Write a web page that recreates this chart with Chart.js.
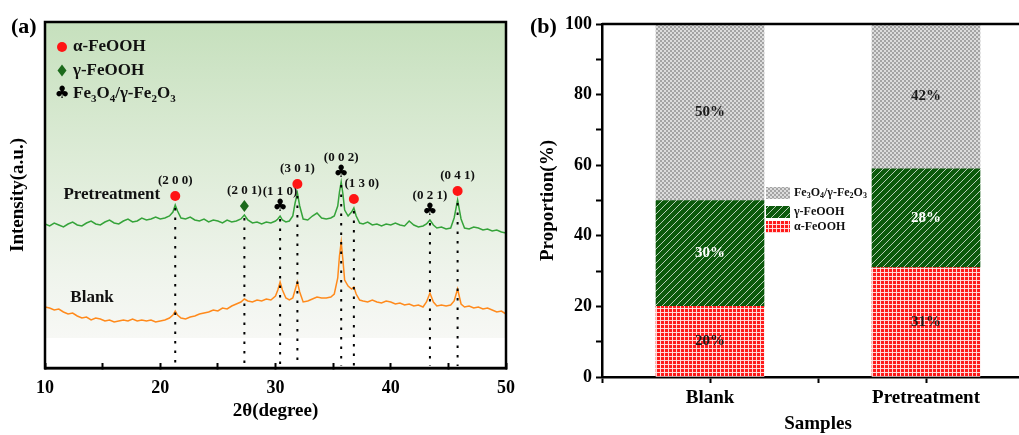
<!DOCTYPE html>
<html>
<head>
<meta charset="utf-8">
<script src="https://cdn.jsdelivr.net/npm/chart.js"></script>
<style>
  html, body { margin: 0; padding: 0; background: #fff; overflow: hidden; width: 1019px; height: 435px; }
  #xrdBox { position: absolute; left: 0; top: 0; width: 530px; height: 435px; }
  #barBox { position: absolute; left: 520px; top: 0; width: 520px; height: 435px; }
</style>
</head>
<body>
<div id="xrdBox"><canvas id="xrdChart"></canvas></div>
<div id="barBox"><canvas id="barChart"></canvas></div>

<script>
    // ==============================
    // Data (a): XRD patterns, [2θ, intensity a.u.]
    // ==============================
    var pretreatmentXRD = [
        [10.0,144],[10.4,142],[10.8,145],[11.2,143],[11.6,141],[12.0,144],[12.4,146],[12.8,143],[13.2,142],[13.6,145],
        [14.0,147],[14.4,144],[14.8,143],[15.2,146],[15.6,148],[16.0,145],[16.4,144],[16.8,147],[17.2,149],[17.6,146],
        [18.0,147],[18.4,150],[18.8,148],[19.2,149],[19.6,151],[20.0,149],[20.4,150],[20.8,152],[21.1,156],[21.3,163],
        [21.5,157],[21.8,150],[22.2,149],[22.6,151],[23.0,148],[23.4,147],[23.8,149],[24.2,146],[24.6,148],[25.0,147],
        [25.4,145],[25.8,148],[26.2,146],[26.6,147],[27.0,149],[27.3,153],[27.6,148],[28.0,145],[28.4,146],[28.8,144],
        [29.2,146],[29.6,145],[30.0,147],[30.2,149],[30.4,152],[30.6,148],[30.9,146],[31.2,147],[31.5,152],[31.7,165],
        [31.9,175],[32.1,162],[32.4,149],[32.8,148],[33.2,152],[33.6,155],[34.0,150],[34.4,149],[34.8,150],[35.1,152],
        [35.4,162],[35.55,176],[35.7,186],[35.85,174],[36.0,158],[36.3,152],[36.6,156],[36.8,160],[37.0,152],[37.3,145],
        [37.6,144],[38.0,146],[38.4,143],[38.8,144],[39.2,142],[39.6,144],[40.0,143],[40.4,145],[40.8,143],[41.2,142],
        [41.6,147],[42.0,143],[42.4,141],[42.8,142],[43.1,144],[43.4,148],[43.7,143],[44.0,140],[44.4,141],[44.8,139],
        [45.2,140],[45.5,150],[45.8,168],[46.1,149],[46.4,140],[46.8,139],[47.2,141],[47.6,140],[48.0,138],[48.4,139],
        [48.8,137],[49.2,138],[49.6,136],[50.0,135]
    ];
    var blankXRD = [
        [10.0,61],[10.4,60],[10.8,58],[11.2,59],[11.6,56],[12.0,54],[12.4,55],[12.8,52],[13.2,50],[13.6,51],
        [14.0,48],[14.4,50],[14.8,49],[15.2,47],[15.6,48],[16.0,46],[16.4,47],[16.8,48],[17.2,47],[17.6,49],
        [18.0,47],[18.4,48],[18.8,47],[19.2,48],[19.6,46],[20.0,47],[20.4,48],[20.8,50],[21.1,53],[21.3,57],
        [21.5,53],[21.8,50],[22.2,49],[22.6,51],[23.0,52],[23.4,54],[23.8,55],[24.2,56],[24.6,58],[25.0,57],
        [25.4,60],[25.8,59],[26.2,62],[26.6,64],[27.0,66],[27.3,69],[27.6,67],[28.0,66],[28.4,68],[28.8,67],
        [29.2,69],[29.6,68],[30.0,72],[30.2,78],[30.4,86],[30.6,78],[30.9,70],[31.2,68],[31.5,70],[31.7,78],
        [31.9,86],[32.1,76],[32.4,66],[32.8,67],[33.2,69],[33.6,71],[34.0,70],[34.4,70],[34.8,71],[35.1,74],
        [35.4,90],[35.55,112],[35.7,126],[35.85,108],[36.0,88],[36.3,82],[36.6,79],[36.8,81],[37.0,74],[37.3,68],
        [37.6,67],[38.0,66],[38.4,68],[38.8,66],[39.2,65],[39.6,67],[40.0,66],[40.4,64],[40.8,65],[41.2,63],
        [41.6,64],[42.0,62],[42.4,63],[42.8,61],[43.1,66],[43.4,75],[43.7,66],[44.0,62],[44.4,63],[44.8,62],
        [45.2,63],[45.5,67],[45.8,79],[46.1,64],[46.4,61],[46.8,62],[47.2,60],[47.6,61],[48.0,59],[48.4,60],
        [48.8,58],[49.2,56],[49.6,57],[50.0,54]
    ];
    var peakTheta = [21.3, 27.3, 30.4, 31.9, 35.7, 36.8, 43.4, 45.8];
    var peakHkl   = ["(2 0 0)", "(2 0 1)", "(1 1 0)", "(3 0 1)", "(0 0 2)", "(1 3 0)", "(0 2 1)", "(0 4 1)"];
    var peakPhase = ["alpha", "gamma", "oxide", "alpha", "oxide", "alpha", "oxide", "alpha"];
    var phaseNames = { alpha: "α-FeOOH", gamma: "γ-FeOOH", oxide: "Fe3O4/γ-Fe2O3" };

    // ==============================
    // Data (b): phase proportions (%)
    // ==============================
    var samples = ["Blank", "Pretreatment"];
    var alphaShare = [20, 31];
    var gammaShare = [30, 28];
    var oxideShare = [50, 42];

    var SERIF = "'Liberation Serif', 'Times New Roman', serif";
    Chart.defaults.font.family = SERIF;
    Chart.defaults.font.weight = "bold";
    Chart.defaults.color = "#000";

    // text with digits drawn as subscripts (Fe3O4 ...)
    function drawChem(ctx, text, x, y, size, align) {
        var parts = text.split(/(\d)/).filter(function (p) { return p !== ""; });
        var big = "bold " + size + "px " + SERIF;
        var small = "bold " + Math.round(size * 0.65) + "px " + SERIF;
        var width = 0;
        parts.forEach(function (p) {
            ctx.font = /\d/.test(p) ? small : big;
            width += ctx.measureText(p).width;
        });
        var cx = align === "center" ? x - width / 2 : x;
        ctx.textAlign = "left";
        ctx.textBaseline = "middle";
        parts.forEach(function (p) {
            var sub = /\d/.test(p);
            ctx.font = sub ? small : big;
            ctx.fillText(p, cx, sub ? y + size * 0.28 : y);
            cx += ctx.measureText(p).width;
        });
    }

    function drawMarker(ctx, phase, x, y) {
        ctx.save();
        if (phase === "alpha") {
            ctx.fillStyle = "#ff1414";
            ctx.beginPath();
            ctx.arc(x, y, 5, 0, Math.PI * 2);
            ctx.fill();
        } else if (phase === "gamma") {
            ctx.fillStyle = "#1b6a1b";
            ctx.beginPath();
            ctx.moveTo(x, y - 6);
            ctx.lineTo(x + 4.5, y);
            ctx.lineTo(x, y + 6);
            ctx.lineTo(x - 4.5, y);
            ctx.closePath();
            ctx.fill();
        } else {
            ctx.fillStyle = "#000";
            ctx.font = "17px 'DejaVu Sans'";
            ctx.textAlign = "center";
            ctx.textBaseline = "middle";
            ctx.fillText("♣", x, y);
        }
        ctx.restore();
    }

    // ==============================
    // Gráfico (a): XRD
    // ==============================
    var xrdDecor = {
        id: "xrdDecor",
        beforeDraw: function (chart) {
            var ctx = chart.ctx, a = chart.chartArea;
            var yFade = chart.scales.y.getPixelForValue(30);
            var g = ctx.createLinearGradient(0, a.top, 0, yFade);
            g.addColorStop(0, "#c6e0bd");
            g.addColorStop(0.45, "#deecd8");
            g.addColorStop(0.8, "#eff4ec");
            g.addColorStop(1, "#f7f8f5");
            ctx.save();
            ctx.fillStyle = g;
            ctx.fillRect(a.left, a.top, a.right - a.left, yFade - a.top);
            ctx.restore();
        },
        afterDatasetsDraw: function (chart) {
            var ctx = chart.ctx, a = chart.chartArea;
            var xs = chart.scales.x, ys = chart.scales.y;
            ctx.save();
            // dotted drop lines
            ctx.strokeStyle = "#000";
            ctx.lineWidth = 2;
            ctx.setLineDash([2.5, 7]);
            peakTheta.forEach(function (t) {
                var top = pretreatmentXRD.find(function (p) { return p[0] === t; })[1];
                var px = xs.getPixelForValue(t);
                ctx.beginPath();
                ctx.moveTo(px, ys.getPixelForValue(top) + 3);
                ctx.lineTo(px, a.bottom - 2);
                ctx.stroke();
            });
            ctx.setLineDash([]);
            // markers + hkl labels
            peakTheta.forEach(function (t, i) {
                var top = pretreatmentXRD.find(function (p) { return p[0] === t; })[1];
                var px = xs.getPixelForValue(t);
                var my = ys.getPixelForValue(top) - 9;
                drawMarker(ctx, peakPhase[i], px, my);
                ctx.fillStyle = "#111";
                ctx.font = "bold 13px " + SERIF;
                ctx.textAlign = "center";
                ctx.textBaseline = "middle";
                var dx = peakHkl[i] === "(1 3 0)" ? 8 : 0;
                ctx.fillText(peakHkl[i], px + dx, my - 15);
            });
            // sample names
            ctx.fillStyle = "#111";
            ctx.font = "bold 17px " + SERIF;
            ctx.textAlign = "left";
            ctx.textBaseline = "middle";
            ctx.fillText("Pretreatment", xs.getPixelForValue(11.6), ys.getPixelForValue(173));
            ctx.fillText("Blank", xs.getPixelForValue(12.2), ys.getPixelForValue(70));
            // legend
            ["alpha", "gamma", "oxide"].forEach(function (ph, i) {
                var ly = a.top + 25 + i * 23.5;
                drawMarker(ctx, ph, a.left + 17, ly);
                ctx.fillStyle = "#111";
                drawChem(ctx, phaseNames[ph], a.left + 28, ly, 17, "left");
            });
            ctx.restore();
        },
        afterDraw: function (chart) {
            var ctx = chart.ctx, a = chart.chartArea;
            ctx.save();
            ctx.strokeStyle = "#000";
            ctx.lineWidth = 2.5;
            ctx.strokeRect(a.left, a.top, a.right - a.left, a.bottom - a.top);
            ctx.fillStyle = "#000";
            ctx.font = "bold 22px " + SERIF;
            ctx.textAlign = "left";
            ctx.textBaseline = "middle";
            ctx.fillText("(a)", 11, 27);
            ctx.restore();
        }
    };

    var xrdChart = new Chart(document.getElementById("xrdChart"), {
        type: "line",
        data: {
            datasets: [{
                label: "Pretreatment",
                data: pretreatmentXRD.map(function (p) { return { x: p[0], y: p[1] }; }),
                borderColor: "#35a33a",
                borderWidth: 1.5,
                pointRadius: 0,
                tension: 0
            }, {
                label: "Blank",
                data: blankXRD.map(function (p) { return { x: p[0], y: p[1] }; }),
                borderColor: "#ff8a1c",
                borderWidth: 1.5,
                pointRadius: 0,
                tension: 0
            }]
        },
        options: {
            responsive: true,
            maintainAspectRatio: false,
            animation: false,
            layout: { padding: { left: 4, top: 22, right: 14, bottom: 0 } },
            plugins: { legend: { display: false }, tooltip: { enabled: false } },
            scales: {
                x: {
                    type: "linear", min: 10, max: 50,
                    afterFit: function (s) { s.height = 67; },
                    border: { display: true, color: "#000", width: 2.5 },
                    grid: { drawOnChartArea: false, tickLength: -5, tickWidth: 2, tickColor: "#000" },
                    ticks: {
                        stepSize: 5, autoSkip: false, maxRotation: 0, padding: 15,
                        font: { size: 18, weight: "bold" }, color: "#000",
                        callback: function (v) { return v % 10 === 0 ? v : ""; }
                    },
                    title: { display: true, text: "2θ(degree)", font: { size: 19, weight: "bold" }, color: "#000", padding: { top: 0, bottom: 13 } }
                },
                y: {
                    min: 0, max: 346,
                    afterFit: function (s) { s.width = 41; },
                    border: { display: false },
                    grid: { display: false },
                    ticks: { display: false },
                    title: { display: true, text: "Intensity(a.u.)", font: { size: 19, weight: "bold" }, color: "#000", padding: { top: 3, bottom: 0 } }
                }
            }
        },
        plugins: [xrdDecor]
    });

    // ==============================
    // Gráfico (b): proporciones
    // ==============================
    function makePattern(w, h, paint) {
        var c = document.createElement("canvas");
        c.width = w; c.height = h;
        var g = c.getContext("2d");
        paint(g);
        return g.createPattern(c, "repeat");
    }
    var checkerFill = makePattern(4, 4, function (g) {
        g.fillStyle = "#dcdcdc"; g.fillRect(0, 0, 4, 4);
        g.fillStyle = "#a4a4a4"; g.fillRect(0, 0, 2, 2); g.fillRect(2, 2, 2, 2);
    });
    var hatchFill = makePattern(7, 7, function (g) {
        g.fillStyle = "#0c5a0c"; g.fillRect(0, 0, 7, 7);
        g.strokeStyle = "rgba(255,255,255,0.7)"; g.lineWidth = 1;
        g.beginPath();
        g.moveTo(0, 7); g.lineTo(7, 0);
        g.moveTo(-1, 1); g.lineTo(1, -1);
        g.moveTo(6, 8); g.lineTo(8, 6);
        g.stroke();
    });
    var gridFill = makePattern(4, 4, function (g) {
        g.fillStyle = "#ff1a1a"; g.fillRect(0, 0, 4, 4);
        g.fillStyle = "rgba(255,225,225,0.95)"; g.fillRect(0, 0, 4, 1); g.fillRect(0, 0, 1, 4);
    });

    function toBars(values) {
        return values.map(function (v, i) { return { x: i + 1, y: v }; });
    }

    var barDecor = {
        id: "barDecor",
        afterDatasetsDraw: function (chart) {
            var ctx = chart.ctx, a = chart.chartArea;
            ctx.save();
            // value labels
            chart.data.datasets.forEach(function (ds, i) {
                chart.getDatasetMeta(i).data.forEach(function (bar, j) {
                    var top = Math.max(bar.y, a.top);
                    ctx.fillStyle = ds.textColor;
                    ctx.font = "bold 15px " + SERIF;
                    ctx.textAlign = "center";
                    ctx.textBaseline = "middle";
                    ctx.fillText(ds.data[j].y + "%", bar.x, (top + bar.base) / 2);
                });
            });
            // legend, top dataset first
            var items = chart.data.datasets.slice().reverse();
            var rows = [a.top + 169, a.top + 188, a.top + 203];
            items.forEach(function (ds, k) {
                var lx = a.left + 164;
                ctx.fillStyle = ds.backgroundColor;
                ctx.fillRect(lx, rows[k] - 6, 24, 12);
                ctx.fillStyle = "#111";
                drawChem(ctx, ds.label, lx + 28, rows[k], 12, "left");
            });
            // frame top
            ctx.strokeStyle = "#000";
            ctx.lineWidth = 2.5;
            ctx.beginPath();
            ctx.moveTo(a.left, a.top);
            ctx.lineTo(a.right, a.top);
            ctx.lineTo(a.right, a.bottom);
            ctx.stroke();
            ctx.fillStyle = "#000";
            ctx.font = "bold 22px " + SERIF;
            ctx.textAlign = "left";
            ctx.fillText("(b)", 10, 27);
            ctx.restore();
        }
    };

    var barChart = new Chart(document.getElementById("barChart"), {
        type: "bar",
        data: {
            datasets: [{
                label: "α-FeOOH",
                data: toBars(alphaShare),
                backgroundColor: gridFill,
                barPercentage: 1,
                categoryPercentage: 1,
                textColor: "#1a1a1a"
            }, {
                label: "γ-FeOOH",
                data: toBars(gammaShare),
                backgroundColor: hatchFill,
                barPercentage: 1,
                categoryPercentage: 1,
                textColor: "#ffffff"
            }, {
                label: "Fe3O4/γ-Fe2O3",
                data: toBars(oxideShare),
                backgroundColor: checkerFill,
                barPercentage: 1,
                categoryPercentage: 1,
                textColor: "#1a1a1a"
            }]
        },
        options: {
            responsive: true,
            maintainAspectRatio: false,
            animation: false,
            layout: { padding: { left: 14, top: 24, right: 6, bottom: 0 } },
            plugins: { legend: { display: false }, tooltip: { enabled: false } },
            scales: {
                x: {
                    type: "linear", min: 0.5, max: 2.5, stacked: true, offset: false,
                    afterFit: function (s) { s.height = 58; },
                    border: { display: true, color: "#000", width: 2.5 },
                    grid: { offset: false, drawOnChartArea: false, tickLength: 6, tickWidth: 2, tickColor: "#000" },
                    ticks: {
                        stepSize: 0.5, autoSkip: false, maxRotation: 0, padding: 4,
                        font: { size: 19, weight: "bold" }, color: "#000",
                        callback: function (v) { return Number.isInteger(v) && samples[v - 1] ? samples[v - 1] : ""; }
                    },
                    title: { display: true, text: "Samples", font: { size: 19, weight: "bold" }, color: "#000", padding: { top: 0, bottom: 0 } }
                },
                y: {
                    min: 0, max: 100, stacked: true,
                    afterFit: function (s) { s.width = 68; },
                    border: { display: true, color: "#000", width: 2.5 },
                    grid: { drawOnChartArea: false, tickLength: 6, tickWidth: 2, tickColor: "#000" },
                    ticks: {
                        stepSize: 10, padding: 4,
                        font: { size: 18, weight: "bold" }, color: "#000",
                        callback: function (v) { return v % 20 === 0 ? v : ""; }
                    },
                    title: { display: true, text: "Proportion(%)", font: { size: 19, weight: "bold" }, color: "#000", padding: { top: 3, bottom: 0 } }
                }
            }
        },
        plugins: [barDecor]
    });
</script>
</body>
</html>
